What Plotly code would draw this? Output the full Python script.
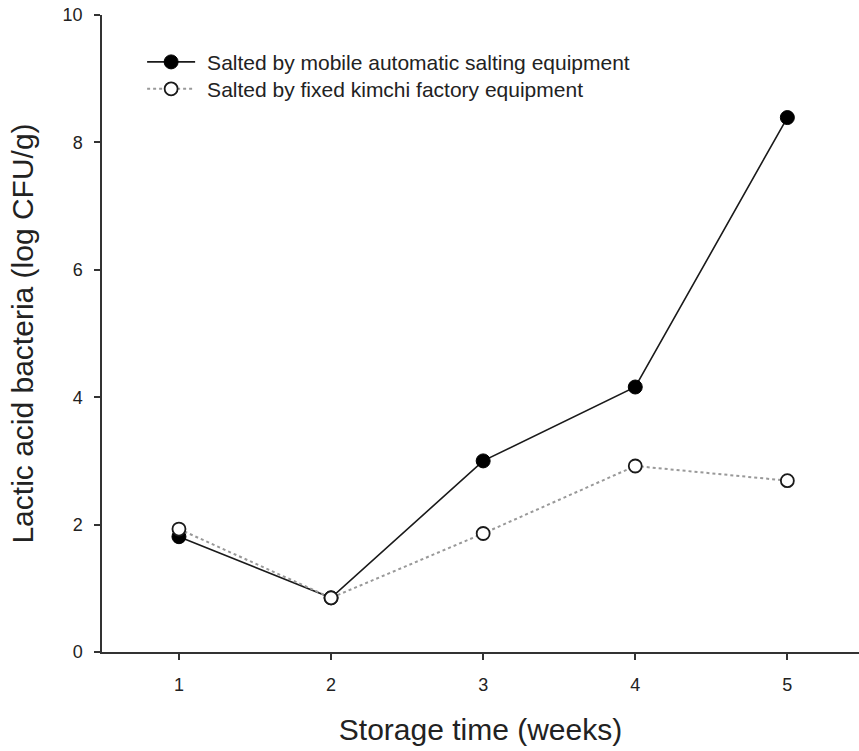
import plotly.graph_objects as go

weeks = [1, 2, 3, 4, 5]
mobile = [1.81, 0.85, 3.00, 4.16, 8.39]
fixed = [1.93, 0.85, 1.86, 2.92, 2.69]
name_mobile = "Salted by mobile automatic salting equipment"
name_fixed = "Salted by fixed kimchi factory equipment"
x_title = "Storage time (weeks)"
y_title = "Lactic acid bacteria (log CFU/g)"
y_ticks = [0, 2, 4, 6, 8, 10]

FONT = "Liberation Sans, Arial, sans-serif"
INK = "#222222"
PAD = "\u2004"  # small gap between legend symbol and label

fig = go.Figure()
fig.add_trace(go.Scatter(
    x=weeks, y=mobile, name=PAD + name_mobile, mode="lines+markers",
    line=dict(color="#1a1a1a", width=1.6),
    marker=dict(symbol="circle", size=14, color="#000000",
                line=dict(color="#000000", width=1)),
    legend="legend",
))
fig.add_trace(go.Scatter(
    x=weeks, y=fixed, name=PAD + name_fixed, mode="lines+markers",
    line=dict(color="#999999", width=2, dash="dot"),
    marker=dict(symbol="circle", size=13, color="#ffffff",
                line=dict(color="#1a1a1a", width=1.8)),
    legend="legend2",
))

axis_common = dict(
    showline=True, linecolor="#333333", linewidth=1.5,
    ticks="outside", ticklen=6, tickwidth=1.5, tickcolor="#333333",
    showgrid=False, zeroline=False,
    tickfont=dict(family=FONT, size=18, color=INK),
)

legend_common = dict(
    xanchor="left", yanchor="top",
    font=dict(family=FONT, size=21, color=INK),
    bgcolor="rgba(0,0,0,0)", itemwidth=48, tracegroupgap=0,
)

fig.update_layout(
    width=859, height=751,
    margin=dict(l=102, r=0, t=15, b=99),
    paper_bgcolor="white", plot_bgcolor="white",
    font=dict(family=FONT, color=INK),
    showlegend=True,
    legend=dict(x=0.053, y=0.958, **legend_common),
    legend2=dict(x=0.053, y=0.9157, **legend_common),
    xaxis=dict(
        range=[0.494, 5.471], tickvals=weeks, ticklabelstandoff=10,
        title=dict(text=x_title, font=dict(family=FONT, size=30, color=INK), standoff=25),
        **axis_common,
    ),
    yaxis=dict(
        range=[0, 10], tickvals=y_ticks, ticklabelstandoff=8,
        title=dict(text=y_title, font=dict(family=FONT, size=30, color=INK), standoff=20),
        **axis_common,
    ),
)

fig.write_html("out.html")
